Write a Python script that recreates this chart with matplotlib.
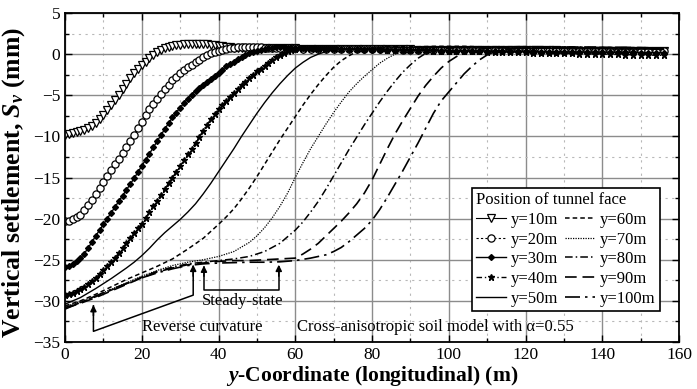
import matplotlib
matplotlib.use("Agg")
import matplotlib.pyplot as plt
from matplotlib.ticker import MultipleLocator

plt.rcParams['font.family'] = ['Liberation Serif', 'DejaVu Serif']
plt.rcParams['mathtext.fontset'] = 'custom'
plt.rcParams['mathtext.rm'] = 'Liberation Serif:bold'
plt.rcParams['mathtext.it'] = 'Liberation Serif:italic:bold'
plt.rcParams['mathtext.bf'] = 'Liberation Serif:bold'

# ---------------- data ----------------
labels = ["y=10m", "y=20m", "y=30m", "y=40m", "y=50m",
          "y=60m", "y=70m", "y=80m", "y=90m", "y=100m"]

# face at y=10 m (open down-triangles): 1 m samples to 50 m, then 2 m samples
x10 = list(range(0, 51)) + list(range(52, 157, 2))
s10 = [-9.8, -9.7, -9.6, -9.5, -9.4, -9.2, -9.0, -8.7, -8.4, -7.9, -7.4, -6.8, -6.2, -5.6, -5.0, -4.3,
       -3.6, -2.9, -2.3, -1.8, -1.3, -0.9, -0.5, -0.1, 0.2, 0.5, 0.7, 0.85, 1.0, 1.1, 1.15, 1.2, 1.2,
       1.2, 1.2, 1.2, 1.2, 1.2, 1.15, 1.1, 1.0, 0.95, 0.9, 0.85, 0.8, 0.8, 0.75, 0.75, 0.7, 0.7, 0.7,
       0.72, 0.72, 0.7, 0.7, 0.69, 0.68, 0.67, 0.66, 0.65, 0.65,
       0.64, 0.63, 0.62, 0.61, 0.6, 0.6, 0.59, 0.58, 0.58, 0.57,
       0.56, 0.55, 0.55, 0.54, 0.53, 0.52, 0.52, 0.51, 0.5, 0.5,
       0.5, 0.49, 0.48, 0.48, 0.47, 0.46, 0.46, 0.45, 0.45, 0.44,
       0.44, 0.43, 0.42, 0.42, 0.41, 0.41, 0.4, 0.4, 0.4, 0.39,
       0.38, 0.38, 0.37]

# face at y=20 m (open circles)
x20 = list(range(0, 57)) + list(range(58, 157, 2))
s20 = [-20.3, -20.25, -20.1, -19.85, -19.5, -19.0, -18.4, -17.7, -17.0, -16.25, -15.5, -14.8, -14.1,
       -13.4, -12.7, -12.0, -11.3, -10.55, -9.8, -9.0, -8.2, -7.45, -6.7, -6.05, -5.4, -4.8, -4.2, -3.7,
       -3.2, -2.75, -2.3, -1.95, -1.6, -1.3, -1.0, -0.7, -0.4, -0.15, 0.1, 0.25, 0.4, 0.5, 0.6, 0.7, 0.8,
       0.85, 0.9, 0.9, 0.9, 0.88, 0.85, 0.82, 0.8, 0.78, 0.75, 0.72, 0.7,
       0.7, 0.7, 0.68, 0.67, 0.66, 0.65, 0.64, 0.63, 0.62, 0.61,
       0.6, 0.6, 0.59, 0.58, 0.57, 0.56, 0.55, 0.55, 0.54, 0.53,
       0.52, 0.52, 0.51, 0.5, 0.5, 0.49, 0.48, 0.48, 0.47, 0.46,
       0.45, 0.45, 0.44, 0.44, 0.43, 0.42, 0.42, 0.41, 0.4, 0.4,
       0.4, 0.39, 0.38, 0.38, 0.37, 0.36, 0.36, 0.35, 0.35, 0.35]

# face at y=30 m (filled diamonds)
x30 = list(range(0, 61)) + list(range(62, 157, 2))
s30 = [-25.9, -25.75, -25.5, -25.2, -24.8, -24.25, -23.6, -22.85, -22.1, -21.4, -20.7, -20.0, -19.3,
       -18.6, -17.9, -17.2, -16.5, -15.8, -15.1, -14.35, -13.6, -12.85, -12.1, -11.35, -10.6, -9.85,
       -9.1, -8.4, -7.7, -7.1, -6.5, -5.95, -5.4, -4.95, -4.5, -4.1, -3.7, -3.35, -3.0, -2.65, -2.3,
       -1.9, -1.5, -1.2, -0.9, -0.65, -0.4, -0.15, 0.1, 0.25, 0.4, 0.5, 0.6, 0.7, 0.8, 0.83, 0.85,
       0.83, 0.8, 0.78, 0.75,
       0.72, 0.7, 0.68, 0.66, 0.64, 0.62, 0.6, 0.58, 0.56, 0.55,
       0.54, 0.52, 0.5, 0.49, 0.48, 0.47, 0.46, 0.45, 0.44, 0.43,
       0.42, 0.41, 0.4, 0.39, 0.38, 0.37, 0.36, 0.35, 0.34, 0.33,
       0.32, 0.31, 0.3, 0.29, 0.28, 0.27, 0.26, 0.25, 0.24, 0.23,
       0.22, 0.21, 0.2, 0.2, 0.19, 0.18, 0.17, 0.16]

# face at y=40 m (stars)
x40 = list(range(0, 71)) + list(range(72, 157, 2))
s40 = [-29.3, -29.15, -29.0, -28.8, -28.6, -28.3, -28.0, -27.6, -27.2, -26.75, -26.3, -25.8, -25.3,
       -24.75, -24.2, -23.6, -23.0, -22.4, -21.8, -21.2, -20.6, -19.9, -19.2, -18.5, -17.8, -17.1,
       -16.4, -15.7, -15.0, -14.3, -13.6, -12.9, -12.2, -11.5, -10.8, -10.05, -9.3, -8.6, -7.9, -7.3,
       -6.7, -6.2, -5.7, -5.2, -4.7, -4.25, -3.8, -3.35, -2.9, -2.5, -2.1, -1.75, -1.4, -1.05, -0.7,
       -0.4, -0.1, 0.15, 0.35, 0.5, 0.6, 0.7, 0.75, 0.78, 0.8, 0.8, 0.8, 0.78, 0.75, 0.72, 0.7,
       0.68, 0.66, 0.64, 0.62, 0.6, 0.58, 0.56, 0.54, 0.52, 0.5,
       0.48, 0.46, 0.44, 0.42, 0.4, 0.38, 0.36, 0.34, 0.32, 0.3,
       0.28, 0.26, 0.24, 0.22, 0.2, 0.18, 0.16, 0.14, 0.12, 0.1,
       0.08, 0.06, 0.04, 0.02, 0.0, -0.02, -0.04, -0.06, -0.08, -0.1,
       -0.12, -0.14, -0.15]

# face at y=50 m (solid line)
x50 = [0, 4, 8, 12, 16, 18, 20, 22, 24, 26, 28, 30, 32, 34, 36, 38, 40, 42, 44, 46, 48, 50, 52, 54, 56,
       58, 60, 62, 64, 66, 68, 70, 72, 76,
       80, 84, 88, 92, 96, 100, 104, 108, 112, 116, 120, 124, 128, 132, 136, 140, 144, 148, 152, 156]
s50 = [-30.4, -29.6, -28.5, -27.3, -26.0, -25.3, -24.5, -23.6, -22.6, -21.7, -20.9, -20.1, -19.2, -18.2,
       -17.0, -15.7, -14.3, -12.9, -11.5, -10.0, -8.6, -7.2, -5.9, -4.7, -3.6, -2.6, -1.7, -1.0, -0.4,
       0.0, 0.3, 0.5, 0.6, 0.7,
       0.75, 0.75, 0.8, 0.8, 0.8, 0.8, 0.75, 0.75, 0.75, 0.7, 0.7, 0.7, 0.7, 0.65, 0.65, 0.65, 0.6, 0.6,
       0.6, 0.55]

x60 = [0, 4, 8, 12, 16, 20, 24, 28, 32, 36, 40, 42, 44, 46, 48, 50, 52, 54, 56, 58, 60, 62, 64, 66, 68,
       70, 72, 74, 76, 80,
       84, 88, 92, 96, 100, 104, 108, 112, 116, 120, 124, 128, 132, 136, 140, 144, 148, 152, 156]
s60 = [-30.6, -30.0, -29.2, -28.3, -27.4, -26.6, -25.8, -24.9, -23.7, -22.4, -20.7, -19.8, -18.8, -17.6,
       -16.3, -14.9, -13.4, -11.9, -10.4, -9.0, -7.6, -6.2, -4.9, -3.7, -2.6, -1.6, -0.8, -0.2, 0.3, 0.7,
       0.9, 0.9, 0.9, 0.95, 0.95, 0.95, 0.9, 0.9, 0.9, 0.9, 0.85, 0.85, 0.85, 0.8, 0.8, 0.8, 0.8, 0.75,
       0.75]

x70 = [0, 4, 8, 12, 16, 20, 24, 28, 32, 36, 40, 44, 48, 50, 52, 54, 56, 58, 60, 62, 64, 66, 68, 70, 72,
       74, 76, 78, 80, 82, 84, 86, 88, 92,
       96, 100, 104, 108, 112, 116, 120, 124, 128, 132, 136, 140, 144, 148, 152, 156]
s70 = [-30.7, -30.1, -29.4, -28.6, -27.8, -27.0, -26.3, -25.7, -25.3, -25.0, -24.6, -24.0, -22.9, -22.1,
       -21.1, -19.9, -18.5, -16.9, -15.0, -13.2, -11.5, -10.0, -8.5, -7.1, -5.8, -4.6, -3.6, -2.7, -1.9,
       -1.1, -0.5, 0.0, 0.3, 0.6,
       0.8, 0.85, 0.9, 0.9, 0.9, 0.9, 0.85, 0.85, 0.85, 0.8, 0.8, 0.8, 0.75, 0.75, 0.75, 0.7]

x80 = [0, 4, 8, 12, 16, 20, 24, 28, 32, 36, 40, 44, 48, 52, 56, 60, 62, 64, 66, 68, 70, 72, 74, 76, 78,
       80, 82, 84, 86, 88, 90, 92, 94, 96, 100,
       104, 108, 112, 116, 120, 124, 128, 132, 136, 140, 144, 148, 152, 156]
s80 = [-30.8, -30.2, -29.5, -28.7, -27.9, -27.1, -26.4, -25.9, -25.5, -25.3, -25.1, -24.9, -24.6, -24.0,
       -23.0, -21.4, -20.4, -19.2, -17.9, -16.4, -14.8, -13.2, -11.6, -10.1, -8.6, -7.2, -5.8, -4.5, -3.3,
       -2.2, -1.3, -0.5, 0.1, 0.4, 0.7,
       0.85, 0.9, 0.9, 0.9, 0.9, 0.85, 0.85, 0.85, 0.8, 0.8, 0.8, 0.75, 0.75, 0.75]

x90 = [0, 4, 8, 12, 16, 20, 24, 28, 32, 36, 40, 44, 48, 52, 56, 60, 62, 64, 66, 68, 70, 72, 74, 76, 78,
       80, 82, 84, 86, 88, 90, 92, 94, 96, 98, 100, 102, 104, 106, 110,
       114, 118, 122, 126, 130, 134, 138, 142, 146, 150, 154, 156]
s90 = [-30.9, -30.3, -29.6, -28.8, -28.0, -27.2, -26.5, -26.0, -25.6, -25.4, -25.2, -25.1, -25.1, -25.0,
       -24.9, -24.8, -24.3, -23.7, -23.0, -22.1, -21.2, -20.3, -19.3, -18.2, -16.9, -15.3, -13.4, -11.5,
       -9.7, -8.1, -6.6, -5.1, -3.8, -2.7, -1.7, -0.9, -0.3, 0.2, 0.5, 0.7,
       0.85, 0.9, 0.9, 0.9, 0.85, 0.85, 0.85, 0.8, 0.8, 0.8, 0.75, 0.75]

x100 = [0, 4, 8, 12, 16, 20, 24, 28, 32, 36, 40, 44, 48, 52, 56, 60, 64, 68, 70, 72, 74, 76, 78, 80, 82,
        84, 86, 88, 90, 92, 94, 96, 98, 100, 102, 104, 106, 108, 110, 112, 114, 118,
        122, 126, 130, 134, 138, 142, 146, 150, 154, 156]
s100 = [-31.0, -30.2, -29.4, -28.6, -27.9, -27.2, -26.6, -26.1, -25.7, -25.5, -25.4, -25.35, -25.3, -25.3,
        -25.25, -25.1, -24.8, -24.4, -24.0, -23.5, -22.8, -22.0, -21.2, -20.2, -18.9, -17.4, -15.8, -14.2,
        -12.5, -10.8, -9.0, -7.2, -5.7, -4.6, -3.5, -2.4, -1.5, -0.7, -0.1, 0.3, 0.5, 0.7,
        0.8, 0.85, 0.85, 0.85, 0.8, 0.8, 0.8, 0.75, 0.75, 0.75]

series_x = [x10, x20, x30, x40, x50, x60, x70, x80, x90, x100]
series_s = [s10, s20, s30, s40, s50, s60, s70, s80, s90, s100]

x_ticks = [0, 20, 40, 60, 80, 100, 120, 140, 160]
y_ticks = [5, 0, -5, -10, -15, -20, -25, -30, -35]

# ---------------- styles ----------------
styles = [
    dict(marker='v', mfc='white', mec='black', ms=5.4, mew=0.9, ls='-', lw=0.8),
    dict(marker='o', mfc='white', mec='black', ms=5.2, mew=0.9, ls=(0, (2, 2)), lw=0.8),
    dict(marker='D', mfc='black', mec='black', ms=3.0, ls='-', lw=1.0),
    dict(marker='*', mfc='black', mec='black', ms=5.0, ls=(0, (4, 2, 1, 2)), lw=1.0),
    dict(ls='-', lw=1.0),
    dict(ls=(0, (3, 2)), lw=1.1),
    dict(ls=(0, (1, 1)), lw=0.9),
    dict(ls=(0, (5, 2, 1, 2)), lw=1.1),
    dict(ls=(0, (7, 3.5)), lw=1.2),
    dict(ls=(0, (9, 3, 1.5, 3)), lw=1.2),
]

fig = plt.figure(figsize=(6.97, 3.89), dpi=100)
ax = fig.add_axes([0.0933, 0.1208, 0.8809, 0.8458])

for xs, ss, lab, st in zip(series_x, series_s, labels, styles):
    ax.plot(xs, ss, color='black', label=lab, **st)

ax.set_xlim(0, 160)
ax.set_ylim(-35, 5)
ax.set_xticks(x_ticks)
ax.set_yticks(y_ticks)
ax.xaxis.set_minor_locator(MultipleLocator(10))
ax.yaxis.set_minor_locator(MultipleLocator(2.5))
ax.grid(which='major', color='#8c8c8c', lw=1.0, ls='-')
ax.grid(which='minor', color='#b8b8b8', lw=0.8, ls=(0, (2, 4)))
ax.set_axisbelow(True)
ax.tick_params(which='both', direction='in', top=True, right=True, labelsize=12.5, width=1)
ax.tick_params(which='major', length=5)
ax.tick_params(which='minor', length=3)
for sp in ax.spines.values():
    sp.set_linewidth(1.3)

ax.set_xlabel(r"$y$-Coordinate (longitudinal) (m)", fontsize=15.5, fontweight='bold', labelpad=1)
ax.set_ylabel(r"Vertical settlement, $S_v$ (mm)", fontsize=18.5, fontweight='bold')
ax.yaxis.set_label_coords(-0.062, 0.485)

# annotations
ak = dict(arrowstyle='-|>', color='black', lw=1.1, mutation_scale=9, shrinkA=0, shrinkB=0)
ax.plot([33.4, 33.4, 7.4, 7.4], [-25.8, -29.3, -33.7, -30.6], color='black', lw=1.1)
ax.annotate('', xy=(33.4, -25.6), xytext=(33.4, -27.0), arrowprops=ak)
ax.annotate('', xy=(7.4, -30.5), xytext=(7.4, -31.8), arrowprops=ak)
ax.plot([36.2, 36.2, 55.7, 55.7], [-25.9, -28.7, -28.7, -25.9], color='black', lw=1.1)
ax.annotate('', xy=(36.2, -25.7), xytext=(36.2, -27.0), arrowprops=ak)
ax.annotate('', xy=(55.7, -25.6), xytext=(55.7, -27.0), arrowprops=ak)

ax.text(35.6, -30.0, "Steady-state", fontsize=12, ha='left', va='center')
ax.text(20.0, -33.2, "Reverse curvature", fontsize=12, ha='left', va='center')
ax.text(60.4, -33.2, "Cross-anisotropic soil model with \u03b1=0.55", fontsize=12, ha='left', va='center')

leg = ax.legend(title="Position of tunnel face", ncol=2, loc='upper right',
                bbox_to_anchor=(0.969, 0.468), fontsize=12, title_fontsize=12,
                frameon=True, fancybox=False, edgecolor='black', framealpha=1,
                borderpad=0.25, labelspacing=0.22, handlelength=1.8, handletextpad=0.3,
                columnspacing=0.4, borderaxespad=0, numpoints=1)
leg._legend_box.align = 'left'
leg.get_frame().set_linewidth(1.2)

fig.savefig('out.png', dpi=100)
